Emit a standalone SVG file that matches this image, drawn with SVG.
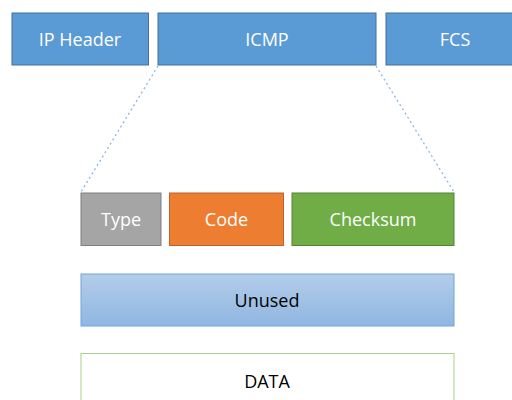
<svg xmlns="http://www.w3.org/2000/svg" width="512" height="400" viewBox="0 0 512 400">
<style>
text{font-family:"Open Sans","Liberation Sans",sans-serif;font-size:18px;text-anchor:middle;dominant-baseline:central}
.w{fill:#fff}.k{fill:#000}
.blue{fill:#5B9BD5;stroke:#41719C;stroke-width:1}
.conn{stroke:#8AB4E0;stroke-width:1.3;stroke-dasharray:2 3;fill:none}
</style>
<defs>
<linearGradient id="g" x1="0" y1="0" x2="0" y2="1">
<stop offset="0" stop-color="#B3CDEA"/>
<stop offset="1" stop-color="#90B6E1"/>
</linearGradient>
</defs>
<rect width="512" height="400" fill="#fff"/>
<g id="connectors">
<line class="conn" x1="158" y1="66" x2="81" y2="192"/>
<line class="conn" x1="376" y1="66" x2="454" y2="192"/>
</g>
<g id="ipheader"><rect class="blue" x="12" y="13" width="136.5" height="52"/><text class="w" x="80" y="39">IP Header</text></g>
<g id="icmp"><rect class="blue" x="158" y="13" width="218" height="52"/><text class="w" x="267" y="39">ICMP</text></g>
<g id="fcs"><rect class="blue" x="386" y="13" width="140" height="52"/><text class="w" x="455" y="39">FCS</text></g>
<g id="type"><rect x="81" y="193" width="80" height="52.5" fill="#A5A5A5" stroke="#7F7F7F"/><text class="w" x="121" y="219">Type</text></g>
<g id="code"><rect x="169.5" y="193" width="114" height="52.5" fill="#ED7D31" stroke="#C0612A"/><text class="w" x="226.5" y="219">Code</text></g>
<g id="checksum"><rect x="292" y="193" width="162" height="52.5" fill="#70AD47" stroke="#548235"/><text class="w" x="373" y="219">Checksum</text></g>
<g id="unused"><rect x="81" y="274" width="373" height="52" fill="url(#g)" stroke="#6FA5DC"/><text class="k" x="267" y="300">Unused</text></g>
<g id="data"><rect x="81" y="353.5" width="373" height="60" fill="#fff" stroke="#A9D18E"/><text class="k" x="267" y="381">DATA</text></g>
</svg>
